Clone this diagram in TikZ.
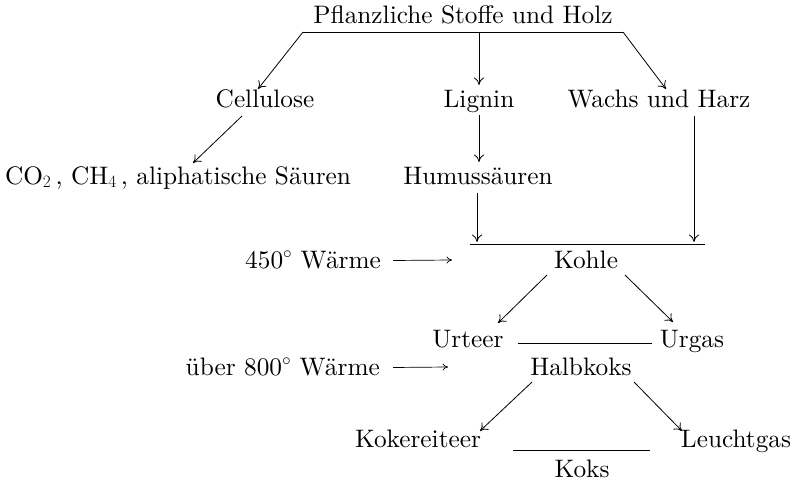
\documentclass[tikz,border=0pt]{standalone}
\usepackage{fontspec}
\setmainfont{lmroman10-regular.otf}
\usetikzlibrary{arrows.meta}
\begin{document}
\begin{tikzpicture}[x=1pt,y=-1pt,
  lbl/.style={anchor=base,inner sep=0pt,font=\fontsize{25.3}{30}\selectfont},
  rule/.style={line width=0.8pt},
  arr/.style={line width=0.8pt,-{To[length=7.5pt,width=10pt]}},
  heat/.style={line width=0.7pt,-{To[length=5.5pt,width=7pt]}},
  ]
\useasboundingbox (0,0) rectangle (795,484);

% labels
\node[lbl] (pfl) at (463,24) {Pflanzliche Stoffe und Holz};
\node[lbl] (cel) at (265,108) {Cellulose};
\node[lbl] (lig) at (479,108) {Lignin};
\node[lbl] (wachs) at (659,108) {Wachs und Harz};
\node[lbl] (co2) at (178,184) {CO$_2$\,, CH$_4$\,, aliphatische Säuren};
\node[lbl] (humus) at (478,184) {Humussäuren};
\node[lbl,anchor=base west] (w450) at (245,268) {450$^\circ$ Wärme};
\node[lbl] (kohle) at (586,268) {Kohle};
\node[lbl] (urteer) at (468,347) {Urteer};
\node[lbl] (urgas) at (692,347) {Urgas};
\node[lbl,anchor=base east] (w800) at (380,375) {über 800$^\circ$ Wärme};
\node[lbl] (halb) at (581,375) {Halbkoks};
\node[lbl] (koker) at (418,447) {Kokereiteer};
\node[lbl] (leucht) at (736,447) {Leuchtgas};
\node[lbl] (koks) at (582,477) {Koks};

% collecting rules
\coordinate (topL) at (303,32);
\coordinate (topR) at (623,32);
\coordinate (topM) at (479,32);
\draw[rule] (topL) -- (topR);

\coordinate (kohL) at (470,244);
\coordinate (kohR) at (705,244);
\draw[rule] (kohL) -- (kohR);

\coordinate (urL) at (518,343);
\coordinate (urR) at (652,343);
\draw[rule] (urL) -- (urR);

\coordinate (koL) at (513,450);
\coordinate (koR) at (650,450);
\draw[rule] (koL) -- (koR);

% arrow end points
\coordinate (celIn) at (258,89);
\coordinate (ligIn) at (479,85);
\coordinate (waIn) at (666,89);
\coordinate (celOut) at (242,116);
\coordinate (co2In) at (193,163);
\coordinate (ligOut) at (479,115);
\coordinate (humIn) at (479,162);
\coordinate (humOut) at (477,193);
\coordinate (kohIn1) at (477,242);
\coordinate (waOut) at (694,116);
\coordinate (kohIn2) at (694,242);
\coordinate (h450) at (452,260);
\coordinate (kohOutL) at (547,275);
\coordinate (urteerIn) at (498,323);
\coordinate (kohOutR) at (625,275);
\coordinate (urgasIn) at (673,322);
\coordinate (h800) at (448,367);
\coordinate (halbOutL) at (532,382);
\coordinate (kokerIn) at (480,431);
\coordinate (halbOutR) at (634,382);
\coordinate (leuchtIn) at (682,431);

% arrows
\draw[arr] (topL) -- (celIn);
\draw[arr] (topM) -- (ligIn);
\draw[arr] (topR) -- (waIn);
\draw[arr] (celOut) -- (co2In);
\draw[arr] (ligOut) -- (humIn);
\draw[arr] (humOut) -- (kohIn1);
\draw[arr] (waOut) -- (kohIn2);
\draw[heat] ([xshift=12pt,yshift=7.5pt]w450.base east) -- (h450);
\draw[arr] (kohOutL) -- (urteerIn);
\draw[arr] (kohOutR) -- (urgasIn);
\draw[heat] ([xshift=13pt,yshift=7.5pt]w800.base east) -- (h800);
\draw[arr] (halbOutL) -- (kokerIn);
\draw[arr] (halbOutR) -- (leuchtIn);
\end{tikzpicture}
\end{document}
